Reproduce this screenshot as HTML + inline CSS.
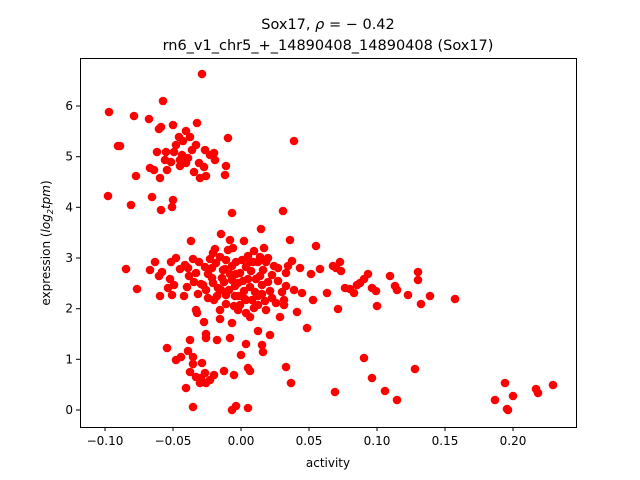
<!DOCTYPE html>
<html><head><meta charset="utf-8"><style>
html,body{margin:0;padding:0;background:#fff;}
svg{display:block;font-family:"DejaVu Sans","Liberation Sans",sans-serif;}
</style></head><body>
<svg id="s" width="640" height="480" viewBox="0 0 640 480" xmlns="http://www.w3.org/2000/svg">
<rect width="640" height="480" fill="#fff"/>
<text x="328" y="29" font-size="14.5" text-anchor="middle">Sox17, <tspan font-style="italic">ρ</tspan> = − 0.42</text>
<text x="328" y="50" font-size="14.5" text-anchor="middle">rn6_v1_chr5_+_14890408_14890408 (Sox17)</text>
<g id="pts" fill="#ff0000"></g>
<rect x="80.5" y="58.5" width="496" height="369" fill="none" stroke="#000" stroke-width="1"/>
<g stroke="#000" stroke-width="1">
<line x1="105" y1="427" x2="105" y2="431"/><line x1="173" y1="427" x2="173" y2="431"/><line x1="241" y1="427" x2="241" y2="431"/><line x1="309" y1="427" x2="309" y2="431"/><line x1="377" y1="427" x2="377" y2="431"/><line x1="445" y1="427" x2="445" y2="431"/><line x1="513" y1="427" x2="513" y2="431"/>
<line x1="76" y1="410" x2="80" y2="410"/><line x1="76" y1="359.3" x2="80" y2="359.3"/><line x1="76" y1="308.7" x2="80" y2="308.7"/><line x1="76" y1="258" x2="80" y2="258"/><line x1="76" y1="207.3" x2="80" y2="207.3"/><line x1="76" y1="156.7" x2="80" y2="156.7"/><line x1="76" y1="106" x2="80" y2="106"/>
</g>
<g font-size="12" text-anchor="middle">
<text x="105" y="445">−0.10</text><text x="173" y="445">−0.05</text><text x="241" y="445">0.00</text><text x="309" y="445">0.05</text><text x="377" y="445">0.10</text><text x="445" y="445">0.15</text><text x="513" y="445">0.20</text>
<text x="328" y="467" font-size="12">activity</text>
</g>
<g font-size="12" text-anchor="end">
<text x="73" y="414">0</text><text x="73" y="363.3">1</text><text x="73" y="312.7">2</text><text x="73" y="262">3</text><text x="73" y="211.3">4</text><text x="73" y="160.7">5</text><text x="73" y="110">6</text>
</g>
<text transform="translate(50,243) rotate(-90)" font-size="12" text-anchor="middle">expression (<tspan font-style="italic">log</tspan><tspan font-size="8" dy="3" font-style="italic">2</tspan><tspan dy="-3" font-style="italic">tpm</tspan>)</text>
</svg>
<script>
var p=[[202,74],[109,112],[163,101],[134,116],[149,119],[183,141],[294,141],[173,125],[120,146],[161,127],[159,129],[186,131],[179,137],[190,137],[196,145],[205,150],[214,153],[166,152],[174,152],[182,155],[165,160],[171,162],[180,160],[188,158],[199,163],[204,167],[210,155],[226,166],[228,138],[194,172],[200,178],[206,176],[225,175],[167,170],[108,196],[136,176],[157,152],[150,168],[160,178],[173,200],[172,207],[152,197],[154,170],[131,205],[161,210],[232,213],[283,211],[186,163],[192,150],[176,145],[197,123],[118,146],[215,160],[180,166],
[126,269],[137,289],[150,270],[155,262],[160,296],[162,272],[170,279],[171,262],[176,258],[180,269],[185,265],[187,287],[189,276],[191,241],[193,259],[196,273],[198,294],[199,262],[203,285],[205,267],[208,274],[210,259],[212,278],[213,253],[215,249],[216,263],[218,288],[220,257],[221,234],[223,270],[224,282],[226,260],[228,250],[230,274],[232,266],[233,248],[235,286],[236,262],[238,296],[240,273],[242,260],[243,281],[245,299],[246,267],[248,256],[250,287],[251,271],[253,262],[255,292],[256,279],[258,262],[260,257],[262,285],[263,270],[265,301],[266,262],[268,258],[270,291],[272,275],[274,266],[276,303],[278,281],[280,317],[282,292],[284,300],[286,273],[288,266],[290,240],[292,261],[294,290],[297,312],[300,268],[302,293],[307,328],[311,274],[313,300],[316,246],[320,269],[327,293],[333,266],[336,268],[338,309],[340,262],[341,271],[345,288],[350,289],[354,293],[357,285],[360,283],[364,279],[368,274],[372,288],[376,291],[377,306],[390,276],[395,286],[397,290],[408,295],[418,272],[418,280],[421,304],[430,296],[455,299],[261,229],[244,241],[201,284],[208,298],[184,296],[172,295],[159,276],[174,285],[214,300],[226,295],[238,310],[250,317],[266,310],[234,306],[258,305],[220,310],[196,310],[204,322],[284,305],[272,298],[244,291],[213,283],[225,269],[221,290],[238,283],[254,251],[264,248],[230,240],[246,300],[262,294],[246,313],[212,268],[194,282],
[229,290],[235,296],[240,305],[252,300],[258,296],[226,304],[217,296],[232,280],[248,279],[260,276],[268,282],[254,308],[242,296],[222,278],[236,274],[250,262],[278,268],[286,286],[206,290],[188,268],[168,288],
[167,348],[176,360],[181,357],[188,351],[193,357],[190,340],[206,334],[206,338],[217,340],[230,338],[246,344],[262,345],[263,352],[232,323],[197,313],[220,319],[190,372],[196,377],[201,378],[205,373],[210,380],[214,375],[200,383],[206,383],[186,388],[193,364],[202,363],[224,371],[234,375],[248,368],[250,371],[291,383],[286,367],[248,408],[236,406],[232,410],[193,407],[335,392],[364,358],[372,378],[385,391],[397,400],[415,369],[495,400],[505,383],[507,409],[513,396],[508,410],[536,389],[538,393],[553,385],[270,335],[258,331],[241,355]];
var g=document.getElementById('pts'),h='';
for(var i=0;i<p.length;i++)h+='<circle cx="'+p[i][0]+'" cy="'+p[i][1]+'" r="4.3"/>';
g.innerHTML=h;
</script>
</body></html>
